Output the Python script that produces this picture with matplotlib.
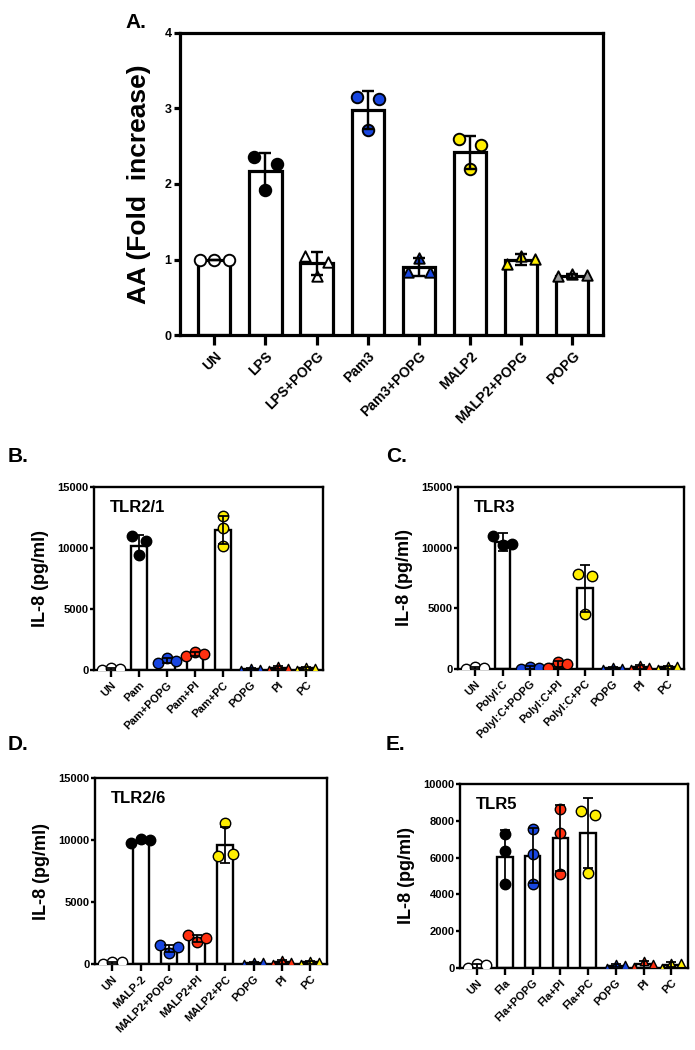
import matplotlib
matplotlib.use("Agg")
import matplotlib.pyplot as plt
import numpy as np

plt.rcParams['font.family'] = ['Liberation Sans', 'DejaVu Sans']
plt.rcParams['font.weight'] = 'bold'

W, H = 695, 1050

##### PANEL A data (fold increase)
a_labels = ["UN", "LPS", "LPS+POPG", "Pam3", "Pam3+POPG", "MALP2", "MALP2+POPG", "POPG"]
a_means = [1.0, 2.17, 0.95, 2.98, 0.90, 2.42, 1.00, 0.78]
a_sd = [0.0, 0.24, 0.15, 0.25, 0.12, 0.22, 0.07, 0.03]
a_points = [[1.0, 1.0, 1.0], [2.36, 1.92, 2.26], [1.05, 0.78, 0.97],
            [3.15, 2.72, 3.12], [0.84, 1.02, 0.84], [2.60, 2.20, 2.52],
            [0.94, 1.05, 1.01], [0.78, 0.81, 0.80]]
a_colors = ["white", "black", "white", "#1846e0", "#1846e0", "#ffee00", "#ffee00", "#999999"]
a_markers = ["o", "o", "^", "o", "^", "o", "^", "^"]

##### PANEL B data (TLR2/1)
b_labels = ["UN", "Pam", "Pam+POPG", "Pam+PI", "Pam+PC", "POPG", "PI", "PC"]
b_means = [80, 10200, 780, 1330, 11450, 80, 180, 130]
b_sd = [80, 850, 200, 150, 1150, 80, 130, 120]
b_points = [[0, 150, 120], [10950, 9400, 10600], [600, 1000, 700],
            [1150, 1500, 1300], [12650, 11650, 10150], [0, 180, 120],
            [30, 330, 200], [0, 220, 200]]

##### PANEL C data (TLR3)
c_labels = ["UN", "PolyI:C", "PolyI:C+POPG", "PolyI:C+PI", "PolyI:C+PC", "POPG", "PI", "PC"]
c_means = [90, 10450, 120, 380, 6650, 80, 180, 130]
c_sd = [80, 750, 100, 250, 1950, 80, 150, 120]
c_points = [[20, 160, 120], [11000, 10200, 10300], [20, 200, 110],
            [100, 560, 450], [7850, 4540, 7680], [0, 160, 100],
            [40, 350, 200], [0, 250, 220]]

##### PANEL D data (TLR2/6)
d_labels = ["UN", "MALP-2", "MALP2+POPG", "MALP2+PI", "MALP2+PC", "POPG", "PI", "PC"]
d_means = [90, 9950, 1250, 2060, 9600, 80, 180, 130]
d_sd = [80, 200, 300, 300, 1450, 80, 150, 120]
d_points = [[20, 160, 150], [9750, 10050, 9980], [1530, 860, 1400],
            [2360, 1740, 2100], [11400, 8700, 8850], [0, 170, 140],
            [40, 360, 200], [0, 220, 200]]

##### PANEL E data (TLR5)
e_labels = ["UN", "Fla", "Fla+POPG", "Fla+PI", "Fla+PC", "POPG", "PI", "PC"]
e_means = [120, 6050, 6100, 7050, 7350, 130, 200, 170]
e_sd = [100, 1450, 1500, 1800, 1900, 100, 180, 130]
e_points = [[0, 220, 150], [7270, 6380, 4560], [7560, 6200, 4560],
            [8640, 7360, 5100], [8550, 8290, 5150], [0, 220, 150],
            [50, 400, 200], [0, 250, 250]]

small_colors = ["white", "black", "#1846e0", "#ff3010", "#ffee00", "#1846e0", "#ff3010", "#ffee00"]
small_markers = ["o", "o", "o", "o", "o", "^", "^", "^"]


def box(l, r, t, b):
    # pixel box -> figure fraction
    return [l / W, 1 - b / H, (r - l) / W, (b - t) / H]


def spread(vals, thresh, offs):
    # Prism-like scatter: only points that overlap get pushed sideways
    vals = np.asarray(vals, dtype=float)
    order = np.argsort(vals, kind="stable")
    groups, cur = [], [order[0]]
    for j in order[1:]:
        if vals[j] - vals[cur[-1]] < thresh:
            cur.append(j)
        else:
            groups.append(cur)
            cur = [j]
    groups.append(cur)
    dx = np.zeros(len(vals))
    for g in groups:
        g = sorted(g)  # keep list order left -> right
        if len(g) == 2:
            dx[g] = [-0.78 * offs, 0.78 * offs]
        elif len(g) >= 3:
            dx[g] = np.linspace(-offs, offs, len(g))
    return dx


def bar_panel(ax, labels, means, sd, points, colors, markers, lw, ms_c, ms_t, cap, offs, width, ymax, ax_h):
    x = np.arange(len(labels))
    ax.bar(x, means, width=width, color="white", edgecolor="black", linewidth=lw, zorder=2)
    for i in range(len(labels)):
        ms = ms_c if markers[i] == "o" else ms_t
        thresh = ymax * (ms * 1.3) / ax_h  # marker diameter in data units
        dx = spread(points[i], thresh, offs)
        ax.scatter(x[i] + dx, points[i], s=ms ** 2, marker=markers[i],
                   facecolor=colors[i], edgecolor="black", linewidth=lw * 0.6, zorder=3)
    ax.errorbar(x, means, yerr=sd, fmt="none", ecolor="black", elinewidth=lw * 0.75,
                capsize=cap, capthick=lw * 0.75, zorder=4)
    ax.set_xticks(x)
    ax.set_xticklabels(labels, rotation=45, ha="right", rotation_mode="anchor")
    for s in ax.spines.values():
        s.set_linewidth(lw)
    ax.tick_params(width=lw, direction="out")
    ax.set_xlim(-0.62, len(labels) - 0.4)
    ax.set_ylim(0, ymax)


fig = plt.figure(figsize=(W / 100, H / 100), dpi=100)

##### A
axA = fig.add_axes(box(180, 603, 33, 335))
bar_panel(axA, a_labels, a_means, a_sd, a_points, a_colors, a_markers,
          lw=2.3, ms_c=8.3, ms_t=7.5, cap=4.5, offs=0.28, width=0.63, ymax=4, ax_h=302)
axA.set_xlim(-0.67, 7.6)
axA.set_yticks([0, 1, 2, 3, 4])
axA.tick_params(axis="y", labelsize=9, length=4, pad=2)
axA.tick_params(axis="x", labelsize=10, length=7, pad=3)
axA.set_ylabel("AA (Fold  increase)", fontsize=19, fontweight="bold", labelpad=10)
fig.text(125 / W, 1 - 22 / H, "A.", fontsize=15, fontweight="bold", va="center")

##### B-E
small = [
    (box(94, 323, 487, 670), b_labels, b_means, b_sd, b_points, 15000, [0, 5000, 10000, 15000], "TLR2/1"),
    (box(458, 684, 487, 669), c_labels, c_means, c_sd, c_points, 15000, [0, 5000, 10000, 15000], "TLR3"),
    (box(95, 327, 778, 964), d_labels, d_means, d_sd, d_points, 15000, [0, 5000, 10000, 15000], "TLR2/6"),
    (box(460, 688, 784, 968), e_labels, e_means, e_sd, e_points, 10000, [0, 2000, 4000, 6000, 8000, 10000], "TLR5"),
]
for rect, labels, means, sd, points, ymax, yt, title in small:
    ax = fig.add_axes(rect)
    bar_panel(ax, labels, means, sd, points, small_colors, small_markers,
              lw=1.7, ms_c=7.5, ms_t=6, cap=3.5, offs=0.33, width=0.56, ymax=ymax, ax_h=rect[3] * H)
    ax.set_yticks(yt)
    ax.tick_params(axis="y", labelsize=8, length=3, pad=1)
    ax.tick_params(axis="x", labelsize=8, length=5, pad=2)
    ax.set_ylabel("IL-8 (pg/ml)", fontsize=13, fontweight="bold", labelpad=6)
    ax.text(0.07, 0.89, title, transform=ax.transAxes, fontsize=12, fontweight="bold", va="center")

fig.text(8 / W, 1 - 457 / H, "B.", fontsize=15, fontweight="bold", va="center")
fig.text(386 / W, 1 - 457 / H, "C.", fontsize=15, fontweight="bold", va="center")
fig.text(8 / W, 1 - 744 / H, "D.", fontsize=15, fontweight="bold", va="center")
fig.text(386 / W, 1 - 744 / H, "E.", fontsize=15, fontweight="bold", va="center")

fig.savefig("out.png", dpi=100)
